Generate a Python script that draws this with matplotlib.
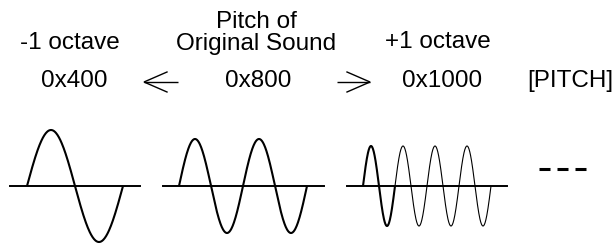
import numpy as np
import matplotlib.pyplot as plt

plt.rcParams['font.family'] = ['Liberation Sans', 'DejaVu Sans']

# pitch labels
labels_top = ['-1 octave', 'Pitch of\nOriginal Sound', '+1 octave']
labels_value = ['0x400', '0x800', '0x1000']
unit_label = '[PITCH]'

# waveforms: number of cycles drawn, and how many of them are bold
cycles = [1, 2, 4]
bold_cycles = [1, 2, 1]
amplitudes = [56, 47, 40]

fig = plt.figure(figsize=(6.14, 2.44), dpi=100)
ax = fig.add_axes([0, 0, 1, 1])
ax.set_xlim(0, 614)
ax.set_ylim(244, 0)
ax.axis('off')

fs = 17.5
top_x = [70, 256, 438]
top_y = [43, 33, 42]
for x, y, s in zip(top_x, top_y, labels_top):
    ax.text(x, y, s, ha='center', va='center', fontsize=fs, linespacing=1.05)

val_x = [74, 258, 442]
for x, s in zip(val_x, labels_value):
    ax.text(x, 81, s, ha='center', va='center', fontsize=fs)
ax.text(570, 81, unit_label, ha='center', va='center', fontsize=fs)

# arrows
def arrow(x0, x1, y):
    d = np.sign(x1 - x0)
    ax.plot([x0, x1], [y, y], color='black', lw=1.0, solid_capstyle='butt')
    ax.plot([x1 - d * 23, x1, x1 - d * 23], [y - 10, y, y + 10], color='black',
            lw=1.0, solid_joinstyle='miter')

arrow(178, 144, 82)
arrow(337, 370, 82)

# waves
axis_y = 186
axis_span = [(10, 140), (163, 324), (347, 507)]
wave_start = [27, 179, 363]
wave_len = [96, 128, 128]
for i in range(3):
    ax.plot(axis_span[i], [axis_y, axis_y], color='black', lw=1.4)
    n = cycles[i]
    period = wave_len[i] / n
    for c in range(n):
        t = np.linspace(0, 1, 200)
        x = wave_start[i] + (c + t) * period
        y = axis_y - amplitudes[i] * np.sin(2 * np.pi * t)
        lw = 1.5 if c < bold_cycles[i] else 0.8
        ax.plot(x, y, color='black', lw=lw, solid_capstyle='butt')

# continuation dashes
for k in range(3):
    x0 = 539 + k * 18
    ax.plot([x0, x0 + 11], [169, 169], color='black', lw=2.2, solid_capstyle='butt')

fig.savefig('out.png', dpi=100)
